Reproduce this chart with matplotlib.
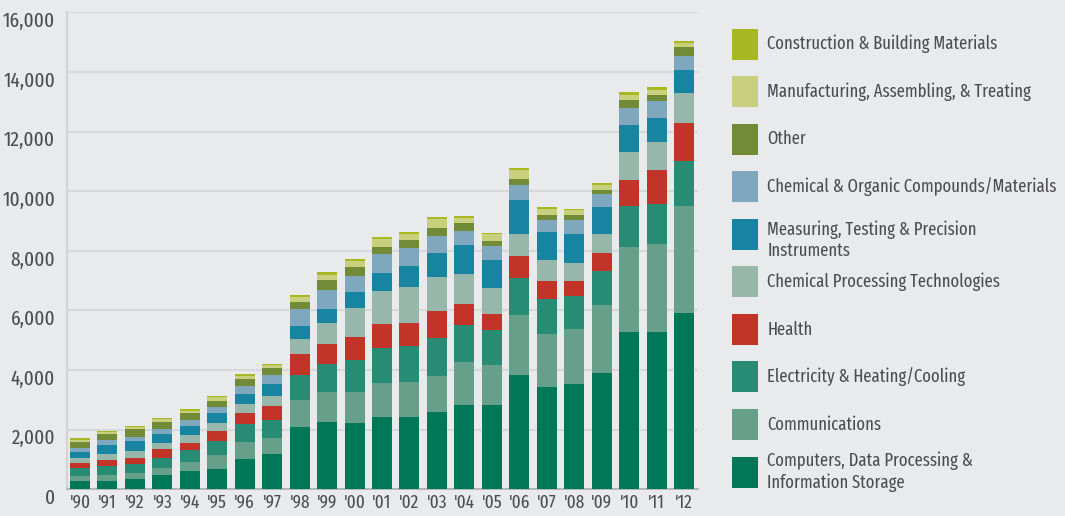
import matplotlib
matplotlib.use("Agg")
import matplotlib.pyplot as plt
import matplotlib.transforms as mtransforms
from matplotlib.patches import Rectangle
import numpy as np

# ---------------- data ----------------
years = ["'90", "'91", "'92", "'93", "'94", "'95", "'96", "'97", "'98", "'99", "'00", "'01",
         "'02", "'03", "'04", "'05", "'06", "'07", "'08", "'09", "'10", "'11", "'12"]

computers = [280, 280, 350, 480, 610, 680, 1020, 1180, 2090, 2260, 2220, 2420, 2420, 2590, 2830, 2830, 3830, 3430, 3530, 3900, 5270, 5270, 5910]
communications = [170, 200, 200, 240, 300, 470, 570, 540, 900, 1000, 1040, 1140, 1170, 1210, 1440, 1340, 2010, 1780, 1840, 2280, 2850, 2950, 3590]
electricity = [270, 300, 310, 340, 400, 470, 600, 600, 830, 940, 1070, 1170, 1210, 1270, 1240, 1170, 1250, 1170, 1120, 1140, 1370, 1340, 1510]
health = [170, 200, 190, 300, 240, 340, 370, 470, 720, 670, 770, 800, 770, 900, 700, 540, 730, 600, 490, 600, 900, 1140, 1270]
chem_processing = [170, 200, 240, 200, 270, 270, 300, 340, 500, 700, 970, 1110, 1210, 1140, 1000, 870, 740, 700, 600, 640, 940, 940, 1000]
measuring = [200, 300, 340, 300, 300, 340, 340, 400, 440, 470, 540, 600, 700, 800, 970, 940, 1140, 940, 1000, 900, 900, 800, 800]
chem_organic = [140, 170, 130, 170, 200, 200, 270, 300, 570, 640, 540, 640, 600, 600, 500, 470, 500, 400, 440, 440, 570, 600, 470]
other = [200, 200, 270, 240, 240, 200, 240, 240, 240, 340, 300, 240, 270, 270, 240, 170, 200, 170, 170, 130, 270, 200, 300]
manufacturing = [70, 70, 70, 100, 70, 130, 100, 100, 170, 170, 200, 270, 200, 270, 170, 240, 300, 200, 170, 170, 170, 170, 130]
construction = [60, 30, 30, 30, 70, 30, 70, 30, 70, 100, 70, 70, 70, 70, 70, 30, 70, 70, 30, 70, 70, 100, 70]

# bottom-to-top stacking order
series = [computers, communications, electricity, health, chem_processing,
          measuring, chem_organic, other, manufacturing, construction]
labels = ["Computers, Data Processing &\nInformation Storage",
          "Communications",
          "Electricity & Heating/Cooling",
          "Health",
          "Chemical Processing Technologies",
          "Measuring, Testing & Precision\nInstruments",
          "Chemical & Organic Compounds/Materials",
          "Other",
          "Manufacturing, Assembling, & Treating",
          "Construction & Building Materials"]
colors = ["#007858", "#67A08A", "#288B73", "#C33428", "#97B7AA",
          "#1785A1", "#7FA8BF", "#718B37", "#C8D07E", "#A8B822"]

yticks = [0, 2000, 4000, 6000, 8000, 10000, 12000, 14000, 16000]

# ---------------- style ----------------
W, H = 1065, 516
BG = "#E9EAEC"
TXT = "#4D4D4F"
FONT = ["Fira Sans Extra Condensed", "DejaVu Sans"]

fig = plt.figure(figsize=(W / 100, H / 100), dpi=100, facecolor=BG)

def px(x0, y0, x1, y1):
    return [x0 / W, 1 - y1 / H, (x1 - x0) / W, (y1 - y0) / H]

ax = fig.add_axes(px(66.7, 12.3, 697.7, 489.3))
ax.set_facecolor(BG)

x = np.arange(len(years))
bottom = np.zeros(len(years))
for vals, col in zip(series, colors):
    ax.bar(x, vals, width=0.73, bottom=bottom, color=col, linewidth=0, zorder=3)
    bottom += np.array(vals)

ax.set_xlim(-0.485, 22.5)
ax.set_ylim(0, 16000)
ax.set_yticks(yticks)
ax.yaxis.grid(True, color="#D7D8DA", linewidth=1.5, zorder=0)
ax.set_axisbelow(True)
ax.tick_params(axis="y", length=0, labelleft=False)
ax.set_xticks(x)
ax.set_xticklabels(years, fontsize=13.5, color=TXT, family=FONT)
ax.tick_params(axis="x", length=0, pad=3.0)

for s in ["top", "right"]:
    ax.spines[s].set_visible(False)
ax.spines["left"].set_color("#D2D3D5")
ax.spines["left"].set_linewidth(1.6)
ax.spines["bottom"].set_color("#ADADAD")
ax.spines["bottom"].set_linewidth(1.2)

# y tick labels, sitting slightly below their gridlines as in the reference
tr = mtransforms.blended_transform_factory(ax.transAxes, ax.transData) + \
    mtransforms.ScaledTranslation(-11.5 / 100, -9 / 100, fig.dpi_scale_trans)
for v in yticks:
    ax.text(0, v, f"{v:,}", transform=tr, ha="right", va="center",
            fontsize=15, color=TXT, family=FONT)

# legend (top entry = top of stack)
sw_x0, sw_x1 = 732, 758
first_c, step = 44.0, 47.56
for i, (lab, col) in enumerate(zip(labels[::-1], colors[::-1])):
    cy = first_c + i * step
    fig.patches.append(Rectangle((sw_x0 / W, 1 - (cy + 15.5) / H), (sw_x1 - sw_x0) / W, 31 / H,
                                 transform=fig.transFigure, facecolor=col, edgecolor="none"))
    ty = cy + (6 if lab.startswith("Measuring") else 0)
    fig.text(767.3 / W, 1 - ty / H, lab, ha="left", va="center", fontsize=13,
             color=TXT, family=FONT, linespacing=1.22)

fig.savefig("out.png", dpi=100, facecolor=BG)
